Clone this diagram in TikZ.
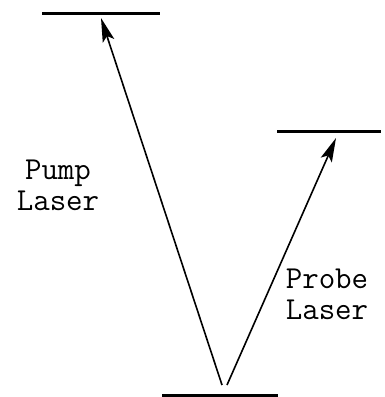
\documentclass[tikz,border=0pt]{standalone}
\usetikzlibrary{positioning,arrows.meta}

\begin{document}
\begin{tikzpicture}[x=1pt, y=-1pt,
  level/.style={line width=3pt},
  beam/.style={-{Stealth[length=24pt, width=12pt, inset=5pt]}, line width=1.6pt},
  lbl/.style={font=\ttfamily\fontsize{32}{31}\selectfont, align=center, inner sep=0pt}
]
\useasboundingbox (0,0) rectangle (384,397);
% energy levels
\coordinate (upperL) at (42,13);
\coordinate (upperR) at (160,13);
\coordinate (probeL) at (277,131);
\coordinate (probeR) at (381,131);
\coordinate (groundL) at (162,395);
\coordinate (groundR) at (278,395);
\draw[level] (upperL) -- (upperR);
\draw[level] (probeL) -- (probeR);
\draw[level] (groundL) -- (groundR);
% transitions
\coordinate (pumpfrom) at (222,385);
\coordinate (pumpto) at (101,18);
\coordinate (probefrom) at (227,385);
\coordinate (probeto) at (336,138);
\draw[beam] (pumpfrom) -- (pumpto);
\draw[beam] (probefrom) -- (probeto);
\node[lbl] (pump) at (58,185) {Pump\\Laser};
\node[lbl] (probe) at (327,294) {Probe\\Laser};
\end{tikzpicture}
\end{document}
